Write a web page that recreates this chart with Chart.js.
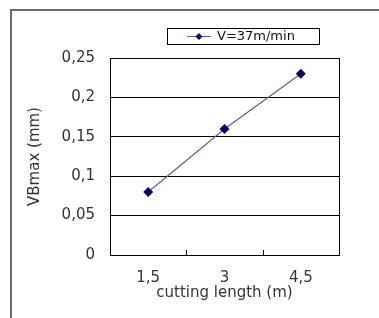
<!DOCTYPE html>
<html><head><meta charset="utf-8">
<script src="https://cdn.jsdelivr.net/npm/chart.js@4/dist/chart.umd.min.js"></script>
<style>
html,body{margin:0;padding:0;background:#fff;}
#wrap{position:relative;width:379px;height:318px;overflow:hidden;}
#frame{position:absolute;left:10px;top:9px;width:400px;height:340px;border:2px solid #6a6a6a;box-sizing:border-box;}
canvas{position:absolute;left:0;top:0;}
</style></head>
<body><div id="wrap"><div id="frame"></div><canvas id="c" width="379" height="318"></canvas></div>
<script>
const categories = ['1,5', '3', '4,5'];
const seriesLabel = 'V=37m/min';
const vbValues = [0.08, 0.16, 0.23];
const yTickLabels = ['0', '0,05', '0,1', '0,15', '0,2', '0,25'];
const xTitle = 'cutting length (m)';
const yTitle = 'VBmax (mm)';

const FONT = "'DejaVu Sans', sans-serif";
const lineColor = '#5c5ca8';
const markColor = '#000066';

const decor = {
  id: 'decor',
  beforeDatasetsDraw(chart) {
    const ctx = chart.ctx, a = chart.chartArea, xs = chart.scales.x;
    ctx.save();
    ctx.strokeStyle = '#000'; ctx.lineWidth = 1;
    ctx.strokeRect(Math.round(a.left) + 0.5, Math.round(a.top) + 0.5, Math.round(a.right - a.left), Math.round(a.bottom - a.top));
    for (let i = 1; i < categories.length; i++) {
      const x = Math.round((xs.getPixelForTick(i - 1) + xs.getPixelForTick(i)) / 2) + 0.5;
      ctx.beginPath(); ctx.moveTo(x, a.bottom); ctx.lineTo(x, a.bottom - 5); ctx.stroke();
    }
    ctx.restore();
  },
  afterDatasetsDraw(chart) {
    const ctx = chart.ctx;
    ctx.save();
    const ds = chart.data.datasets[0];
    const lx = 167, ly = 28, lw = 152, lh = 16;
    ctx.strokeStyle = '#000'; ctx.lineWidth = 1;
    ctx.strokeRect(lx + 0.5, ly + 0.5, lw, lh);
    const my = ly + lh / 2 + 0.5;
    ctx.strokeStyle = ds.borderColor; ctx.lineWidth = 1;
    ctx.beginPath(); ctx.moveTo(187, my); ctx.lineTo(211, my); ctx.stroke();
    ctx.fillStyle = markColor;
    ctx.beginPath(); ctx.moveTo(199, my - 3.5); ctx.lineTo(202.5, my); ctx.lineTo(199, my + 3.5); ctx.lineTo(195.5, my); ctx.closePath(); ctx.fill();
    ctx.fillStyle = '#111'; ctx.font = '13px ' + FONT; ctx.textBaseline = 'middle'; ctx.textAlign = 'left';
    ctx.fillText(ds.label, 217, my);
    ctx.restore();
  }
};

new Chart(document.getElementById('c'), {
  type: 'line',
  data: {
    labels: categories,
    datasets: [{
      label: seriesLabel,
      data: vbValues,
      borderColor: lineColor,
      borderWidth: 1.2,
      backgroundColor: markColor,
      pointStyle: 'rectRot',
      pointRadius: 5,
      pointBackgroundColor: markColor,
      pointBorderColor: markColor,
      pointBorderWidth: 0,
      tension: 0
    }]
  },
  options: {
    responsive: false,
    animation: false,
    devicePixelRatio: 1,
    layout: { padding: { left: 0, right: 40, top: 58, bottom: 0 } },
    plugins: { legend: { display: false }, tooltip: { enabled: false } },
    scales: {
      x: {
        offset: true,
        grid: { display: false, drawTicks: false },
        border: { display: true, color: '#000', width: 1 },
        ticks: { color: '#333', font: { family: FONT, size: 15 }, padding: 14, maxRotation: 0 },
        title: { display: true, text: xTitle, color: '#333', font: { family: FONT, size: 15 }, padding: { top: 0, bottom: 16 } },
        afterFit(s) { s.height = 63; }
      },
      y: {
        min: 0, max: 0.25,
        afterBuildTicks(s) { s.ticks = yTickLabels.map((t, i) => ({ value: i * 0.05 })); },
        grid: { color: '#000', drawTicks: false, lineWidth: 1 },
        border: { display: true, color: '#000', width: 1 },
        ticks: {
          color: '#333', font: { family: FONT, size: 15 }, padding: 15,
          callback(v, i) { return yTickLabels[i]; }
        },
        title: { display: true, text: yTitle, color: '#333', font: { family: FONT, size: 15 }, padding: { top: 26, bottom: 0 } },
        afterFit(s) { s.width = 110; }
      }
    }
  },
  plugins: [decor]
});
</script>
</body></html>
